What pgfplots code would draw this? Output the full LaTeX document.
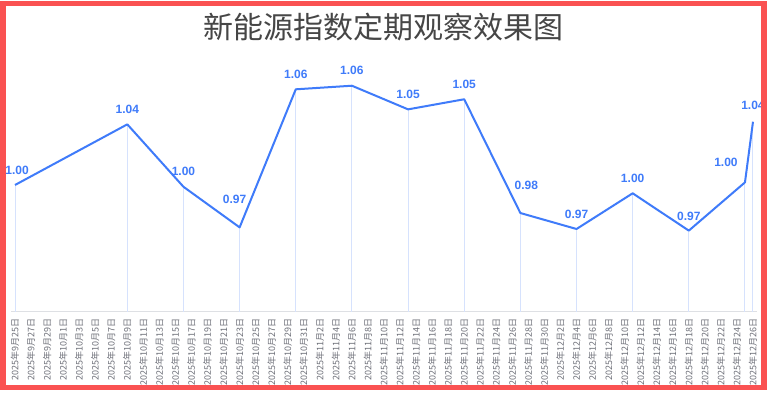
\documentclass[border=0pt]{standalone}
\usepackage{pgfplots}
\pgfplotsset{compat=1.18}
\usepackage{pgfplotstable}
\usepackage{fontspec}
\newfontfamily\cjk{Noto Sans CJK SC}
\newfontfamily\lab{Liberation Sans}
\definecolor{lineblue}{RGB}{63,123,250}
\definecolor{dropblue}{RGB}{214,226,253}
\definecolor{bordred}{RGB}{250,82,82}
\definecolor{titlegray}{RGB}{70,70,70}
\definecolor{ticklab}{RGB}{110,112,121}
\definecolor{axisgray}{RGB}{222,224,228}

\pgfplotstableread{
x y dx dy
0 1.0006 2 10.5
14 1.0378 0 10.5
21 0.9995 0 10.5
28 0.9746 -5 24
35 1.0593 0 10.5
42 1.0615 0 10.5
49 1.0470 0 10.5
56 1.0532 0 10.5
63 0.9834 6 23
70 0.9736 0 10
77 0.9955 0 10.5
84 0.9726 0 10
91 1.0022 -19 16
92 1.0394 0 11.5
}\data

\begin{document}
\begin{tikzpicture}[x=1bp,y=1bp]
\path[use as bounding box] (0,0) rectangle (768,393);
\fill[white] (0,0) rectangle (768,393);
\begin{axis}[
  at={(11bp,81.3bp)}, anchor=south west,
  scale only axis, width=746bp, height=256.7bp,
  xmin=-0.5, xmax=92.5, ymin=0.92286, ymax=1.08035,
  axis y line=none, axis x line*=bottom,
  x axis line style={draw=axisgray, line width=1.2bp, -},
  major tick length=0pt,
  xtick={0,2,...,92},
  xticklabels={2025年9月25日,2025年9月27日,2025年9月29日,2025年10月1日,2025年10月3日,2025年10月5日,2025年10月7日,2025年10月9日,2025年10月11日,2025年10月13日,2025年10月15日,2025年10月17日,2025年10月19日,2025年10月21日,2025年10月23日,2025年10月25日,2025年10月27日,2025年10月29日,2025年10月31日,2025年11月2日,2025年11月4日,2025年11月6日,2025年11月8日,2025年11月10日,2025年11月12日,2025年11月14日,2025年11月16日,2025年11月18日,2025年11月20日,2025年11月22日,2025年11月24日,2025年11月26日,2025年11月28日,2025年11月30日,2025年12月2日,2025年12月4日,2025年12月6日,2025年12月8日,2025年12月10日,2025年12月12日,2025年12月14日,2025年12月16日,2025年12月18日,2025年12月20日,2025年12月22日,2025年12月24日,2025年12月26日},
  xticklabel style={font=\cjk\fontsize{9bp}{9bp}\selectfont, text=ticklab, rotate=90, anchor=east, inner xsep=7bp, inner ysep=0pt},
]
\addplot[ycomb, draw=dropblue, line width=1bp] table[x=x,y=y]{\data};
\addplot[lineblue, line width=2bp, line join=round] table[x=x,y=y]{\data};
\addplot[draw=none, point meta=y,
  visualization depends on={\thisrow{dx}\as\dx},
  visualization depends on={\thisrow{dy}\as\dy},
  nodes near coords={\pgfmathprintnumber[fixed,fixed zerofill,precision=2,assume math mode=true]{\pgfplotspointmeta}},
  nodes near coords style={anchor=south, inner sep=0pt, xshift=\dx*1bp, yshift=\dy*1bp, font=\lab\bfseries\fontsize{12bp}{12bp}\selectfont, text=lineblue}
] table[x=x,y=y]{\data};
\end{axis}
\node[font=\cjk\fontsize{30bp}{30bp}\selectfont, text=titlegray] at (383.5,366) {新能源指数定期观察效果图};
\draw[bordred, line width=5.5bp] (3,5.5) rectangle (764,389.5);
\end{tikzpicture}
\end{document}
